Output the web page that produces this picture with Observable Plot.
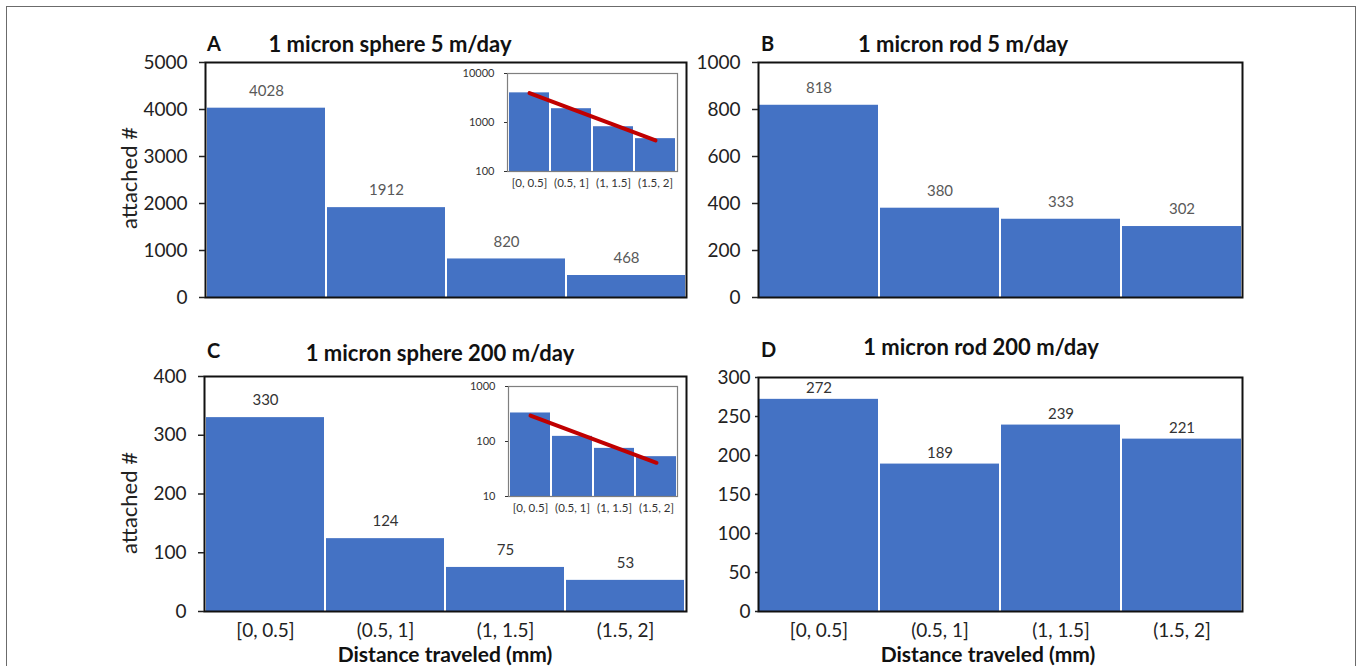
<!DOCTYPE html>
<html><head><meta charset="utf-8">
<script src="https://cdn.jsdelivr.net/npm/d3@7"></script>
<script src="https://cdn.jsdelivr.net/npm/@observablehq/plot@0.6"></script>
<style>
body{margin:0;background:#fff;font-family:Lato, "Open Sans", sans-serif;}
#page{position:relative;width:1358px;height:666px;overflow:hidden;background:#fff}
.abs{position:absolute}
.frameOuter{left:6px;top:6px;width:1348px;height:720px;border:1.5px solid #6b6b6b;border-bottom:none}
.ttl{font-weight:bold;font-size:22px;color:#111;white-space:nowrap;transform:translate(-50%,-50%)}
.let{font-weight:bold;font-size:20px;color:#111;transform:translate(0,-50%)}
.ylab{font-size:22px;color:#222;white-space:nowrap;line-height:1;transform:translate(-50%,-50%) rotate(-90deg)}
.xlab{font-weight:bold;font-size:21px;color:#111;white-space:nowrap;transform:translate(-50%,-50%);line-height:1}
</style></head><body><div id="page"><div class="abs frameOuter"></div></div>
<script>
// ---- data ----
const bins = ["[0, 0.5]", "(0.5, 1]", "(1, 1.5]", "(1.5, 2]"];
const sphere5 = [4028, 1912, 820, 468];
const rod5 = [818, 380, 333, 302];
const sphere200 = [330, 124, 75, 53];
const rod200 = [272, 189, 239, 221];
// red fit line in insets: values read at first and last bin centre
const trendSphere5 = [3980, 430];
const trendSphere200 = [295, 41];
const ticksA = [0, 1000, 2000, 3000, 4000, 5000];
const ticksB = [0, 200, 400, 600, 800, 1000];
const ticksC = [0, 100, 200, 300, 400];
const ticksD = [0, 50, 100, 150, 200, 250, 300];
const insetTicksA = [100, 1000, 10000];
const insetTicksC = [10, 100, 1000];
const titles = ["1 micron sphere 5 m/day", "1 micron rod 5 m/day", "1 micron sphere 200 m/day", "1 micron rod 200 m/day"];
const letters = ["A", "B", "C", "D"];
const yLabel = "attached #";
const xLabel = "Distance traveled (mm)";

const BLUE = "#4472C4";
const page = document.getElementById("page");

function place(el, left, top) {
  el.style.position = "absolute";
  el.style.left = left + "px";
  el.style.top = top + "px";
  page.appendChild(el);
}
function div(cls, text, left, top) {
  const d = document.createElement("div");
  d.className = "abs " + cls;
  d.textContent = text;
  d.style.left = left + "px";
  d.style.top = top + "px";
  page.appendChild(d);
}

function panel(o) {
  const data = bins.map((b, i) => ({bin: b, v: o.values[i]}));
  const marks = [
    Plot.barY(data, {x: "bin", y: "v", fill: BLUE, insetLeft: 1, insetRight: 1}),
    Plot.text(data, {x: "bin", y: "v", text: d => String(d.v), dy: o.labelDy, fontSize: 15, fill: o.labelFill}),
    Plot.frame({stroke: "#111", strokeWidth: 2}),
    Plot.axisY({ticks: o.ticks, tickSize: o.tickSize, tickPadding: o.tickPadding, tickFormat: d3.format("d"), label: null, fontSize: 19, strokeWidth: 1.5})
  ];
  if (o.showX) marks.push(Plot.axisX({tickSize: 0, tickPadding: 12, label: null, fontSize: 19}));
  const p = Plot.plot({
    width: o.width, height: o.height,
    marginLeft: o.ml, marginRight: o.mr, marginTop: o.mt, marginBottom: o.mb,
    x: {domain: bins, padding: 0, axis: null},
    y: {domain: o.domain, axis: null},
    style: {fontFamily: "Lato, 'Open Sans', sans-serif", color: "#222", background: "transparent", overflow: "visible"},
    marks
  });
  place(p, o.left, o.top);
}

function inset(o) {
  const base = o.domain[0];
  const data = bins.map((b, i) => ({bin: b, v: o.values[i]}));
  const trend = [{bin: bins[0], v: o.trend[0]}, {bin: bins[bins.length - 1], v: o.trend[1]}];
  const p = Plot.plot({
    width: o.width, height: o.height,
    marginLeft: o.ml, marginRight: o.mr, marginTop: o.mt, marginBottom: o.mb,
    x: {domain: bins, padding: 0, axis: null},
    y: {type: "log", domain: o.domain, axis: null},
    style: {fontFamily: "Lato, 'Open Sans', sans-serif", color: "#333", background: "transparent", overflow: "visible"},
    marks: [
      Plot.barY(data, {x: "bin", y1: () => base, y2: "v", fill: BLUE, insetLeft: 1, insetRight: 1}),
      Plot.frame({stroke: "#7f7f7f", strokeWidth: 1.2}),
      Plot.line(trend, {x: "bin", y: "v", stroke: "#C00000", strokeWidth: 4}),
      Plot.axisY({ticks: o.ticks, tickSize: 3, tickPadding: 10, tickFormat: d3.format("d"), label: null, fontSize: 11}),
      Plot.axisX({tickSize: 0, tickPadding: 7, label: null, fontSize: 11.5})
    ]
  });
  place(p, o.left, o.top);
}

// Panel A
panel({values: sphere5, domain: [0, 5000], ticks: ticksA, showX: false, left: 100, top: 50, width: 600, height: 260,
  ml: 105, mr: 14, mt: 12, mb: 13, tickSize: 6, tickPadding: 12, labelDy: -17, labelFill: "#595959"});
inset({values: sphere5, trend: trendSphere5, domain: [100, 10000], ticks: insetTicksA, left: 450, top: 65, width: 235, height: 130,
  ml: 57, mr: 8, mt: 8, mb: 24});
// Panel B
panel({values: rod5, domain: [0, 1000], ticks: ticksB, showX: false, left: 680, top: 50, width: 580, height: 260,
  ml: 78, mr: 18, mt: 12, mb: 13, tickSize: 6, tickPadding: 12, labelDy: -17, labelFill: "#595959"});
// Panel C
panel({values: sphere200, domain: [0, 400], ticks: ticksC, showX: true, left: 100, top: 360, width: 600, height: 300,
  ml: 104, mr: 14, mt: 16, mb: 49, tickSize: 6, tickPadding: 12, labelDy: -17, labelFill: "#333"});
inset({values: sphere200, trend: trendSphere200, domain: [10, 1000], ticks: insetTicksC, left: 450, top: 378, width: 235, height: 140,
  ml: 58, mr: 8, mt: 8, mb: 22});
// Panel D
panel({values: rod200, domain: [0, 300], ticks: ticksD, showX: true, left: 680, top: 360, width: 580, height: 300,
  ml: 78, mr: 18, mt: 17, mb: 49, tickSize: 3, tickPadding: 5, labelDy: -11, labelFill: "#333"});

// titles and labels
div("let", letters[0], 207, 43);
div("ttl", titles[0], 390, 43);
div("let", letters[1], 761, 43);
div("ttl", titles[1], 963, 43);
div("let", letters[2], 207, 350);
div("ttl", titles[2], 440, 352);
div("let", letters[3], 761, 349);
div("ttl", titles[3], 981, 346);
div("ylab", yLabel, 129, 178);
div("ylab", yLabel, 129, 503);
div("xlab", xLabel, 445, 653);
div("xlab", xLabel, 988, 653);
</script></body></html>
